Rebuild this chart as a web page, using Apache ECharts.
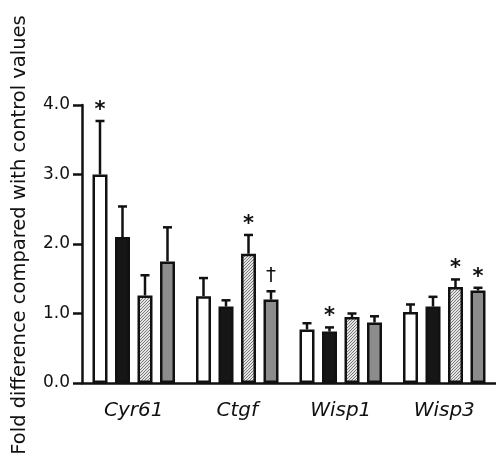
<!DOCTYPE html>
<html>
<head>
<meta charset="utf-8">
<script src="https://cdn.jsdelivr.net/npm/echarts@6/dist/echarts.min.js"></script>
<style>
  html, body { margin: 0; padding: 0; background: #fff; }
  #main { width: 496px; height: 461px; }
</style>
</head>
<body>
<div id="main"></div>
<script>
const categories = ['Cyr61', 'Ctgf', 'Wisp1', 'Wisp3'];

// mean values per group
const whiteValues = [3.00, 1.25, 0.77, 1.02];
const blackValues = [2.10, 1.10, 0.74, 1.10];
const hatchValues = [1.26, 1.86, 0.95, 1.38];
const grayValues = [1.75, 1.20, 0.87, 1.33];

// upper error (SEM)
const whiteErr = [0.77, 0.26, 0.09, 0.11];
const blackErr = [0.44, 0.09, 0.06, 0.14];
const hatchErr = [0.29, 0.27, 0.05, 0.11];
const grayErr = [0.49, 0.12, 0.09, 0.04];

// significance marks
const whiteMarks = ['*', '', '', ''];
const blackMarks = ['', '', '*', ''];
const hatchMarks = ['', '*', '', '*'];
const grayMarks = ['', '\u2020', '', '*'];

const yTicks = [0, 1, 2, 3, 4];

const FONT = 'DejaVu Sans';
const INK = '#111';

// hatched fill
const hatch = document.createElement('canvas');
hatch.width = 3;
hatch.height = 3;
const hctx = hatch.getContext('2d');
hctx.fillStyle = '#e4e4e4';
hctx.fillRect(0, 0, 3, 3);
hctx.fillStyle = '#7a7a7a';
hctx.fillRect(2, 0, 1, 1);
hctx.fillRect(1, 1, 1, 1);
hctx.fillRect(0, 2, 1, 1);

const groups = [
  { values: whiteValues, err: whiteErr, marks: whiteMarks, fill: '#ffffff' },
  { values: blackValues, err: blackErr, marks: blackMarks, fill: '#161616' },
  { values: hatchValues, err: hatchErr, marks: hatchMarks, fill: { image: hatch, repeat: 'repeat' } },
  { values: grayValues, err: grayErr, marks: grayMarks, fill: '#8c8c8c' }
];

const BAR_W = 15;
const STEP = 22.5;

const myMain = echarts.init(document.getElementById('main'));

const series = [];
groups.forEach((g, gi) => {
  series.push({
    type: 'bar',
    data: g.values,
    barWidth: BAR_W,
    barGap: ((STEP - BAR_W) / BAR_W * 100) + '%',
    itemStyle: { color: g.fill, borderColor: INK, borderWidth: 2.5 },
    z: 2
  });
});
groups.forEach((g, gi) => {
  series.push({
    type: 'custom',
    data: g.values.map((v, i) => [i, v, v + g.err[i]]),
    z: 3,
    renderItem: (params, api) => {
      const off = (gi - 1.5) * STEP;
      const base = api.coord([api.value(0), api.value(1)]);
      const top = api.coord([api.value(0), api.value(2)]);
      const x = base[0] + off;
      const mark = g.marks[api.value(0)];
      const children = [
        { type: 'line', shape: { x1: x, y1: base[1], x2: x, y2: top[1] },
          style: { stroke: INK, lineWidth: 2.5 } },
        { type: 'line', shape: { x1: x - 4.5, y1: top[1], x2: x + 4.5, y2: top[1] },
          style: { stroke: INK, lineWidth: 2.5 } }
      ];
      if (mark) {
        children.push({
          type: 'text',
          style: {
            text: mark, x: x, y: top[1] - (mark === '*' ? 0 : 5),
            align: 'center', verticalAlign: 'bottom',
            font: (mark === '*' ? 'bold 21px ' : '20px ') + FONT, fill: INK
          }
        });
      }
      return { type: 'group', children: children };
    }
  });
});

myMain.setOption({
  animation: false,
  grid: { left: 82, right: 0, top: 105, bottom: 78 },
  xAxis: {
    type: 'category',
    data: categories,
    axisLine: { lineStyle: { color: INK, width: 2.5 } },
    axisTick: { alignWithLabel: true, length: 7, lineStyle: { color: INK, width: 2.5 } },
    axisLabel: { margin: 18, fontFamily: FONT, fontSize: 20, fontStyle: 'italic', color: INK }
  },
  yAxis: {
    type: 'value',
    min: yTicks[0],
    max: yTicks[yTicks.length - 1],
    interval: 1,
    splitLine: { show: false },
    axisLine: { show: true, lineStyle: { color: INK, width: 2.5 } },
    axisTick: { show: true, length: 9, lineStyle: { color: INK, width: 2.5 } },
    axisLabel: { margin: 12, fontFamily: FONT, fontSize: 17, color: INK, formatter: (v) => v.toFixed(1) }
  },
  graphic: [{
    type: 'text',
    x: 20,
    y: 235,
    rotation: Math.PI / 2,
    style: {
      text: 'Fold difference compared with control values',
      font: '19.5px ' + FONT,
      fill: INK,
      align: 'center',
      verticalAlign: 'middle'
    }
  }],
  series: series
}, true);
</script>
</body>
</html>
